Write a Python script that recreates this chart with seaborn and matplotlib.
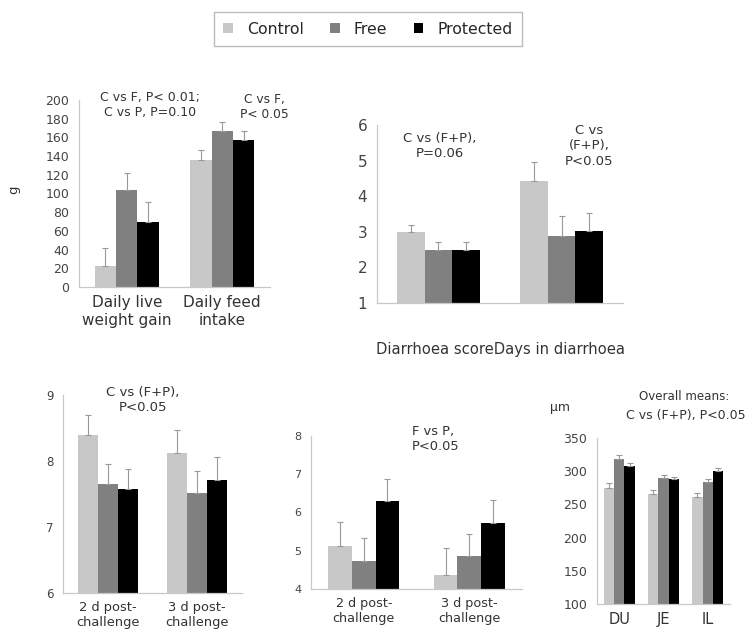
import numpy as np
import pandas as pd
import seaborn as sns
import matplotlib.pyplot as plt
from matplotlib.patches import Patch
from matplotlib.ticker import FixedLocator

treatments = ['Control', 'Free', 'Protected']
colors = ['#c8c8c8', '#808080', '#000000']

# daily gain and feed intake (g), rows = Control, Free, Protected
gain_labels = ['Daily live\nweight gain', 'Daily feed\nintake']
gain_mean = [[22, 136], [104, 167], [69, 157]]
gain_sem = [[20, 10], [18, 10], [22, 10]]

# diarrhoea
diar_labels = ['Diarrhoea score', 'Days in diarrhoea']
diar_mean = [[3.0, 4.42], [2.5, 2.88], [2.5, 3.03]]
diar_sem = [[0.2, 0.55], [0.2, 0.55], [0.2, 0.5]]

challenge_labels = ['2 d post-\nchallenge', '3 d post-\nchallenge']
ph_mean = [[8.39, 8.12], [7.65, 7.52], [7.58, 7.71]]
ph_sem = [[0.31, 0.35], [0.30, 0.33], [0.30, 0.35]]

count_mean = [[5.12, 4.36], [4.73, 4.86], [6.30, 5.72]]
count_sem = [[0.63, 0.71], [0.60, 0.57], [0.57, 0.60]]

villus_labels = ['DU', 'JE', 'IL']
villus_mean = [[275, 266, 261], [318, 290, 284], [308, 288, 300]]
villus_sem = [[7, 6, 6], [6, 4, 5], [4, 4, 5]]

sns.set_style('white')
plt.rcParams['font.family'] = ['DejaVu Sans']

W, H = 747, 640
fig = plt.figure(figsize=(W / 100, H / 100), dpi=100)


def rect(x0, y0, x1, y1):
    # pixel box -> figure fraction
    return [x0 / W, 1 - y1 / H, (x1 - x0) / W, (y1 - y0) / H]


def ftext(x, y, s, size, ha='center', **kw):
    fig.text(x / W, 1 - y / H, s, fontsize=size, ha=ha, va='center',
             color='#333333', linespacing=1.25, **kw)


def make_df(labels, means):
    rows = []
    for t, vals in zip(treatments, means):
        for lab, v in zip(labels, vals):
            rows.append({'cat': lab, 'treatment': t, 'value': v})
    return pd.DataFrame(rows)


def bar_panel(box, labels, means, sems, ylim, yticks, width,
              ytick_size, xtick_size, show_xlabels=True):
    ax = fig.add_axes(rect(*box))
    df = make_df(labels, means)
    sns.barplot(data=df, x='cat', y='value', hue='treatment',
                order=labels, hue_order=treatments, palette=colors,
                width=width, saturation=1, errorbar=None, legend=False,
                linewidth=0, ax=ax)
    for cont, errs in zip(ax.containers, sems):
        for bar, e in zip(cont, errs):
            x = bar.get_x() + bar.get_width() / 2
            ax.errorbar(x, bar.get_height(), yerr=[[0], [e]], fmt='none',
                        ecolor='#999999', elinewidth=0.8, capsize=2.5,
                        capthick=0.8)
    ax.set_ylim(*ylim)
    ax.set_yticks(yticks)
    ax.set_xlim(-0.5, len(labels) - 0.5)
    ax.xaxis.set_minor_locator(FixedLocator(np.arange(0.5, len(labels) - 1, 1)))
    ax.tick_params(axis='x', which='major', length=0, labelsize=xtick_size,
                   pad=6, colors='#333333')
    ax.tick_params(axis='x', which='minor', length=3, color='#c8c8c8')
    ax.tick_params(axis='y', length=3, color='#c8c8c8', labelsize=ytick_size,
                   labelcolor='#444444', pad=4)
    if not show_xlabels:
        ax.set_xticklabels([])
    ax.set_xlabel('')
    ax.set_ylabel('')
    sns.despine(ax=ax)
    for sp in ['left', 'bottom']:
        ax.spines[sp].set_color('#c8c8c8')
        ax.spines[sp].set_linewidth(0.9)
    return ax


# top left: gain / intake
bar_panel((79, 100, 270, 287), gain_labels, gain_mean, gain_sem,
          (0, 200), range(0, 201, 20), 0.67, 9, 11)
ftext(14, 190, 'g', 9.5, rotation=90)
ftext(150, 105, 'C vs F, P< 0.01;\nC vs P, P=0.10', 9)
ftext(264, 107, 'C vs F,\nP< 0.05', 8.8)

# top right: diarrhoea
ax2 = bar_panel((377, 125, 623, 303), diar_labels, diar_mean, diar_sem,
                (1, 6), range(1, 7), 0.67, 11, 10, show_xlabels=False)
ax2.set_xlabel(''.join(diar_labels), fontsize=10.6, color='#333333', labelpad=22)
ftext(440, 146, 'C vs (F+P),\nP=0.06', 9.5)
ftext(589, 146, 'C vs\n(F+P),\nP<0.05', 9.5)

# bottom left
bar_panel((63, 395, 242, 593), challenge_labels, ph_mean, ph_sem,
          (6, 9), range(6, 10), 0.67, 8.5, 9.4)
ftext(143, 400, 'C vs (F+P),\nP<0.05', 9.5)

# bottom middle
bar_panel((311, 436, 522, 589), challenge_labels, count_mean, count_sem,
          (4, 8), range(4, 9), 0.67, 8, 9.2)
ftext(412, 439, 'F vs P,\nP<0.05', 9.4, ha='left')

# bottom right: villus height
bar_panel((597, 438, 730, 604), villus_labels, villus_mean, villus_sem,
          (100, 350), range(100, 351, 50), 0.7, 9, 10.5)
ftext(560, 408, 'µm', 9)
ftext(684, 397, 'Overall means:', 8.6)
ftext(746, 416, 'C vs (F+P), P<0.05', 9, ha='right')

# legend
handles = [Patch(facecolor=c, edgecolor='none') for c in colors]
fig.legend(handles, treatments, loc='center', bbox_to_anchor=(368 / W, 1 - 29 / H),
           ncol=3, fontsize=11.3, frameon=True, fancybox=False, edgecolor='#aaaaaa',
           handlelength=0.6, handleheight=0.6, columnspacing=1.7,
           handletextpad=0.9, borderpad=0.6)

fig.savefig('out.png', dpi=100)
